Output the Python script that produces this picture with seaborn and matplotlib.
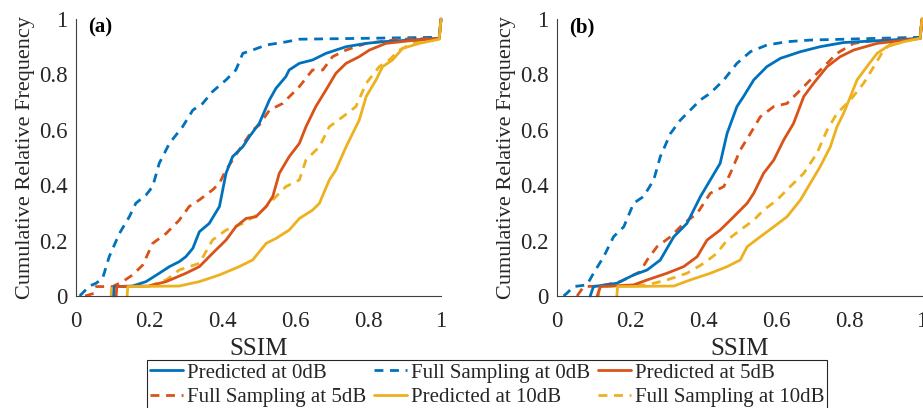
import matplotlib
matplotlib.use("Agg")
import matplotlib.pyplot as plt
import seaborn as sns
import pandas as pd
from matplotlib.lines import Line2D

sns.set_theme(style="white")
plt.rcParams['font.family'] = ['Liberation Serif', 'DejaVu Serif']

# ---------------- data ----------------
labels = ["Predicted at 0dB", "Full Sampling at 0dB", "Predicted at 5dB",
          "Full Sampling at 5dB", "Predicted at 10dB", "Full Sampling at 10dB"]
ticks = [0, 0.2, 0.4, 0.6, 0.8, 1]
tick_labels = ["0", "0.2", "0.4", "0.6", "0.8", "1"]
panel_tags = ["(a)", "(b)"]

# Panel (a)
a_pred0_x = [0.103, 0.105, 0.155, 0.192, 0.228, 0.256, 0.283, 0.301, 0.32, 0.338, 0.365, 0.393, 0.411, 0.429,
             0.457, 0.475, 0.502, 0.53, 0.548, 0.575, 0.584, 0.612, 0.648, 0.685, 0.74, 0.795, 0.84, 0.995, 1.0]
a_pred0_y = [0.0, 0.034, 0.036, 0.052, 0.082, 0.106, 0.124, 0.142, 0.172, 0.232, 0.262, 0.323, 0.443, 0.503,
             0.539, 0.575, 0.623, 0.708, 0.75, 0.792, 0.816, 0.84, 0.852, 0.876, 0.9, 0.912, 0.918, 0.93, 1.0]
a_full0_x = [0.01, 0.037, 0.055, 0.073, 0.091, 0.119, 0.146, 0.164, 0.192, 0.21, 0.228, 0.256, 0.292, 0.32,
             0.347, 0.374, 0.411, 0.438, 0.457, 0.484, 0.521, 0.578, 0.612, 0.995, 1.0]
a_full0_y = [0.0, 0.036, 0.046, 0.064, 0.142, 0.226, 0.286, 0.335, 0.365, 0.395, 0.479, 0.551, 0.611, 0.671,
             0.695, 0.738, 0.78, 0.816, 0.876, 0.888, 0.906, 0.918, 0.927, 0.934, 1.0]
a_pred5_x = [0.11, 0.112, 0.2, 0.247, 0.301, 0.338, 0.374, 0.411, 0.438, 0.466, 0.493, 0.521, 0.539, 0.557,
             0.584, 0.612, 0.63, 0.657, 0.685, 0.712, 0.74, 0.776, 0.804, 0.849, 0.932, 0.995, 1.0]
a_pred5_y = [0.0, 0.034, 0.036, 0.052, 0.082, 0.106, 0.154, 0.202, 0.25, 0.28, 0.286, 0.323, 0.359, 0.443,
             0.503, 0.551, 0.611, 0.684, 0.744, 0.804, 0.84, 0.864, 0.888, 0.912, 0.924, 0.93, 1.0]
a_full5_x = [0.025, 0.05, 0.055, 0.1, 0.128, 0.155, 0.183, 0.21, 0.247, 0.283, 0.31, 0.338, 0.374, 0.393,
             0.411, 0.447, 0.484, 0.502, 0.53, 0.566, 0.594, 0.612, 0.648, 0.676, 0.703, 0.74, 0.795, 0.886,
             0.995, 1.0]
a_full5_y = [0.0, 0.01, 0.034, 0.034, 0.052, 0.076, 0.112, 0.19, 0.226, 0.274, 0.323, 0.347, 0.383, 0.407,
             0.455, 0.527, 0.599, 0.617, 0.671, 0.695, 0.732, 0.756, 0.816, 0.816, 0.864, 0.888, 0.912, 0.927,
             0.93, 1.0]
a_pred10_x = [0.14, 0.142, 0.283, 0.338, 0.393, 0.447, 0.484, 0.521, 0.548, 0.584, 0.612, 0.648, 0.667, 0.694,
              0.712, 0.74, 0.776, 0.795, 0.822, 0.84, 0.867, 0.895, 0.941, 0.995, 1.0]
a_pred10_y = [0.0, 0.034, 0.036, 0.052, 0.076, 0.106, 0.13, 0.19, 0.208, 0.238, 0.28, 0.31, 0.335, 0.419,
              0.455, 0.539, 0.635, 0.72, 0.78, 0.828, 0.852, 0.894, 0.912, 0.927, 1.0]
a_full10_x = [0.096, 0.098, 0.2, 0.247, 0.283, 0.338, 0.374, 0.411, 0.457, 0.502, 0.539, 0.575, 0.612, 0.63,
              0.667, 0.694, 0.731, 0.767, 0.795, 0.831, 0.858, 0.886, 0.932, 0.995, 1.0]
a_full10_y = [0.0, 0.034, 0.036, 0.058, 0.094, 0.118, 0.202, 0.238, 0.262, 0.298, 0.347, 0.395, 0.419, 0.491,
              0.539, 0.611, 0.647, 0.684, 0.768, 0.828, 0.852, 0.888, 0.918, 0.93, 1.0]

# Panel (b)
b_pred0_x = [0.091, 0.1, 0.164, 0.21, 0.247, 0.283, 0.32, 0.356, 0.393, 0.42, 0.447, 0.466, 0.493, 0.511,
             0.539, 0.575, 0.612, 0.667, 0.721, 0.785, 0.995, 1.0]
b_pred0_y = [0.0, 0.034, 0.046, 0.076, 0.094, 0.13, 0.214, 0.262, 0.359, 0.419, 0.479, 0.587, 0.684, 0.72,
             0.78, 0.828, 0.858, 0.882, 0.9, 0.915, 0.93, 1.0]
b_full0_x = [0.018, 0.027, 0.046, 0.082, 0.1, 0.128, 0.155, 0.183, 0.21, 0.237, 0.265, 0.283, 0.311, 0.338,
             0.365, 0.393, 0.42, 0.457, 0.493, 0.53, 0.575, 0.63, 0.694, 0.995, 1.0]
b_full0_y = [0.0, 0.01, 0.034, 0.04, 0.082, 0.142, 0.214, 0.25, 0.335, 0.359, 0.419, 0.503, 0.587, 0.635,
             0.671, 0.708, 0.732, 0.78, 0.84, 0.882, 0.906, 0.918, 0.924, 0.934, 1.0]
b_pred5_x = [0.11, 0.119, 0.21, 0.247, 0.301, 0.347, 0.384, 0.411, 0.447, 0.484, 0.521, 0.539, 0.566, 0.594,
             0.621, 0.648, 0.676, 0.703, 0.74, 0.776, 0.813, 0.877, 0.995, 1.0]
b_pred5_y = [0.0, 0.034, 0.04, 0.058, 0.082, 0.106, 0.142, 0.202, 0.238, 0.286, 0.335, 0.371, 0.443, 0.491,
             0.563, 0.623, 0.72, 0.768, 0.828, 0.864, 0.888, 0.912, 0.93, 1.0]
b_full5_x = [0.055, 0.073, 0.119, 0.174, 0.228, 0.247, 0.274, 0.311, 0.347, 0.384, 0.42, 0.457, 0.475, 0.502,
             0.53, 0.557, 0.594, 0.63, 0.658, 0.694, 0.731, 0.767, 0.813, 0.877, 0.995, 1.0]
b_full5_y = [0.0, 0.034, 0.036, 0.052, 0.088, 0.13, 0.178, 0.214, 0.262, 0.298, 0.371, 0.395, 0.443, 0.527,
             0.587, 0.647, 0.684, 0.695, 0.732, 0.78, 0.828, 0.876, 0.912, 0.924, 0.93, 1.0]
b_pred10_x = [0.164, 0.166, 0.32, 0.365, 0.42, 0.466, 0.502, 0.521, 0.557, 0.594, 0.63, 0.667, 0.694, 0.721,
              0.749, 0.767, 0.785, 0.804, 0.822, 0.849, 0.877, 0.904, 0.95, 0.995, 1.0]
b_pred10_y = [0.0, 0.034, 0.036, 0.058, 0.082, 0.106, 0.13, 0.178, 0.214, 0.25, 0.286, 0.347, 0.407, 0.467,
              0.539, 0.611, 0.659, 0.72, 0.78, 0.828, 0.876, 0.9, 0.918, 0.93, 1.0]
b_full10_x = [0.114, 0.116, 0.247, 0.301, 0.356, 0.402, 0.438, 0.466, 0.502, 0.539, 0.566, 0.603, 0.639, 0.676,
              0.712, 0.74, 0.767, 0.804, 0.84, 0.868, 0.895, 0.922, 0.995, 1.0]
b_full10_y = [0.0, 0.034, 0.04, 0.058, 0.082, 0.118, 0.154, 0.202, 0.238, 0.274, 0.31, 0.347, 0.395, 0.443,
              0.515, 0.599, 0.659, 0.708, 0.768, 0.828, 0.888, 0.918, 0.93, 1.0]

panels = [
    [(a_pred0_x, a_pred0_y), (a_full0_x, a_full0_y), (a_pred5_x, a_pred5_y),
     (a_full5_x, a_full5_y), (a_pred10_x, a_pred10_y), (a_full10_x, a_full10_y)],
    [(b_pred0_x, b_pred0_y), (b_full0_x, b_full0_y), (b_pred5_x, b_pred5_y),
     (b_full5_x, b_full5_y), (b_pred10_x, b_pred10_y), (b_full10_x, b_full10_y)],
]

# ---------------- style ----------------
colors = ["#0072BD", "#0072BD", "#D95319", "#D95319", "#EDB120", "#EDB120"]
dash = (0, (3.2, 2.4))
styles = ["-", dash, "-", dash, "-", dash]
draw_order = [1, 3, 5, 0, 2, 4]

W, H = 923, 408
fig = plt.figure(figsize=(W / 100, H / 100), dpi=100)
ax_rects = [
    [76 / W, 1 - 296 / H, (441 - 76) / W, (296 - 19) / H],
    [557 / W, 1 - 296 / H, (922 - 557) / W, (296 - 19) / H],
]

for pi, rect in enumerate(ax_rects):
    ax = fig.add_axes(rect)
    for si in draw_order:
        xs, ys = panels[pi][si]
        df = pd.DataFrame({"x": xs, "y": ys})
        sns.lineplot(data=df, x="x", y="y", sort=False, ax=ax, color=colors[si],
                     linestyle=styles[si], linewidth=2.0, estimator=None)
    ax.set_xlim(0, 1)
    ax.set_ylim(0, 1)
    ax.set_xticks(ticks)
    ax.set_yticks(ticks)
    ax.set_xticklabels(tick_labels)
    ax.set_yticklabels(tick_labels)
    ax.tick_params(direction="in", length=4, width=0.8, colors="#262626",
                   labelsize=16.5, labelcolor="#262626")
    ax.tick_params(axis="x", pad=11)
    ax.tick_params(axis="y", pad=6)
    for sp in ["top", "right"]:
        ax.spines[sp].set_visible(False)
    for sp in ["left", "bottom"]:
        ax.spines[sp].set_color("#404040")
        ax.spines[sp].set_linewidth(0.8)
    ax.set_xlabel("SSIM", fontsize=18, color="#262626", labelpad=4)
    ax.set_ylabel("Cumulative Relative Frequency", fontsize=16, color="#262626", labelpad=3)
    ax.text(0.033, 1.005, panel_tags[pi], transform=ax.transAxes, fontsize=15,
            fontweight="bold", va="top", ha="left", color="black")
    ax.patch.set_alpha(0)
    for ln in ax.lines:
        ln.set_clip_on(False)

# legend
handles = [Line2D([0], [0], color=colors[i], linestyle=styles[i], linewidth=2.0) for i in range(6)]
order = [0, 3, 1, 4, 2, 5]
leg = fig.legend([handles[i] for i in order], [labels[i] for i in order], ncol=3,
                 loc="upper left", bbox_to_anchor=(147 / W, 1 - 360 / H),
                 fontsize=15, frameon=True, fancybox=False, framealpha=1,
                 edgecolor="#262626", handlelength=1.6, handletextpad=0.15,
                 columnspacing=0.4, borderpad=0.15, labelspacing=0.22,
                 borderaxespad=0)
leg.get_frame().set_linewidth(0.8)
for t in leg.get_texts():
    t.set_color("#262626")

fig.savefig("out.png", dpi=100, facecolor="white")
